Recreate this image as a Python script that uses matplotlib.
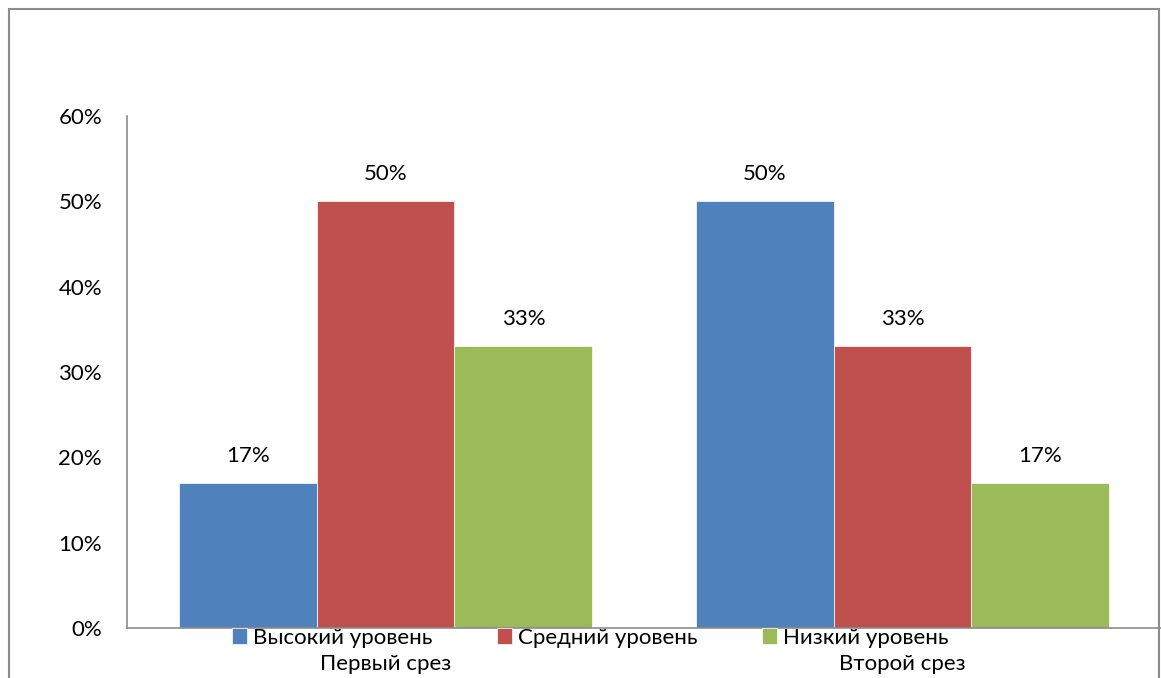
import matplotlib.pyplot as plt
from matplotlib.patches import Rectangle
import numpy as np

# Уровни по двум срезам (%)
srezy = ['Первый срез', 'Второй срез']
urovni = ['Высокий уровень', 'Средний уровень', 'Низкий уровень']
vysokiy = [17, 50]
sredniy = [50, 33]
nizkiy = [33, 17]
cveta = ['#4F81BD', '#C0504D', '#9BBB59']

plt.rcParams['font.family'] = ['Lato', 'DejaVu Sans']

fig = plt.figure(figsize=(11.61, 6.78), dpi=100)
ax = fig.add_axes([0.1094, 0.0737, 0.8906, 0.7552])

# рамка вокруг всей диаграммы
fig.patches.append(Rectangle((9 / 1161, -0.05), 1150 / 1161, 1.05 - 9 / 678,
                             transform=fig.transFigure, fill=False,
                             edgecolor='#8c8c8c', linewidth=1.5))

x = np.arange(len(srezy))
w = 0.2667
for i, (vals, name) in enumerate(zip([vysokiy, sredniy, nizkiy], urovni)):
    pos = x + (i - 1) * w
    ax.bar(pos, vals, w, color=cveta[i], edgecolor='white', linewidth=0.5, label=name)
    for px, v in zip(pos, vals):
        ax.text(px, v + 2.0, f'{v}%', ha='center', va='bottom', fontsize=16)

ax.set_xlim(-0.5, 1.5)
ax.set_ylim(0, 60)
ax.set_yticks(range(0, 61, 10))
ax.set_yticklabels([f'{t}%' for t in range(0, 61, 10)], fontsize=16)
ax.set_xticks(x)
ax.set_xticklabels(srezy, fontsize=16)
ax.tick_params(axis='both', length=0)
ax.tick_params(axis='y', pad=18)
ax.tick_params(axis='x', pad=19)

for s in ['top', 'right']:
    ax.spines[s].set_visible(False)
for s in ['left', 'bottom']:
    ax.spines[s].set_color('#8c8c8c')
    ax.spines[s].set_linewidth(1.2)

ax.legend(loc='upper center', bbox_to_anchor=(0.448, 0.0), ncol=3, frameon=False,
          fontsize=16, handlelength=0.7, handleheight=0.7, handletextpad=0.25,
          columnspacing=2.9, borderpad=0, borderaxespad=0)

fig.savefig('out.png', dpi=100)
